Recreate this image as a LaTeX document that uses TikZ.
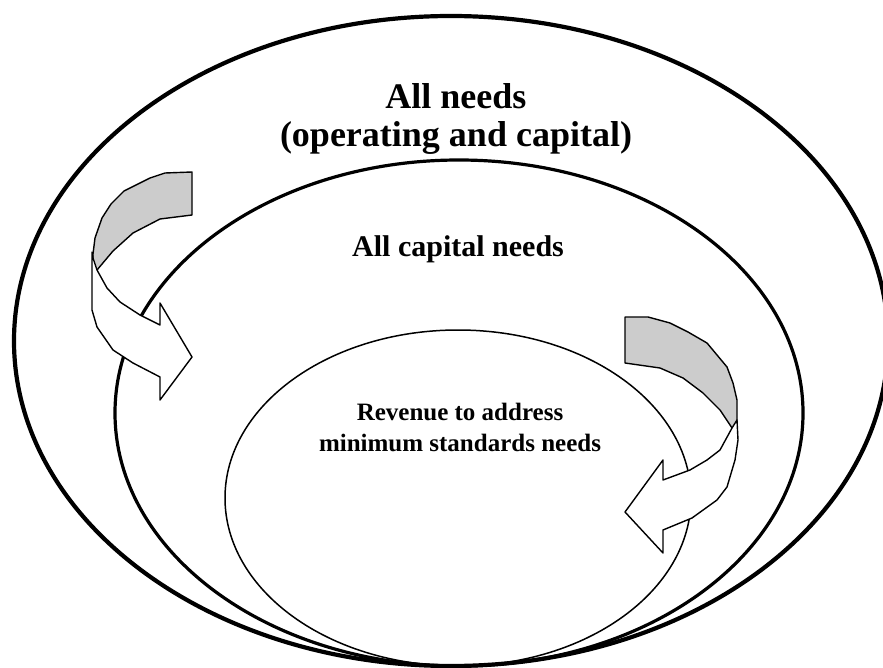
\documentclass[tikz,border=0pt]{standalone}
\usepackage{fontspec}
\setmainfont{Liberation Serif}
\begin{document}
\begin{tikzpicture}[x=1pt,y=-1pt,
  ring/.style={draw=black},
  bandfill/.style={draw=black,line width=1.4pt,line join=round,fill=white},
  backfill/.style={draw=black,line width=1.4pt,line join=round,fill=black!20},
  caption/.style={align=center,font=\bfseries,inner sep=0pt}]
\useasboundingbox (0,0) rectangle (883,668);

% nested ellipses, all touching near the bottom
\draw[ring,line width=4.2pt] (451,341) ellipse [x radius=437,y radius=325];
\draw[ring,line width=3.2pt] (459,413) ellipse [x radius=344,y radius=253];
\draw[ring,line width=1.5pt] (458,498) ellipse [x radius=233,y radius=168];

% labels
\node[caption,font=\bfseries\fontsize{36}{38}\selectfont] (allneeds) at (456,119)
  {All needs\\(operating and capital)};
\node[caption,font=\bfseries\fontsize{30}{33}\selectfont] (capital) at (458,249)
  {All capital needs};
\node[caption,font=\bfseries\fontsize{25}{31}\selectfont] (revenue) at (460,427)
  {Revenue to address\\minimum standards needs};

% left curved arrow: shaded back face, then the white band with its head
\draw[backfill] (192,172) -- (165,173) -- (150,178) -- (124,191) -- (111,204)
  -- (102,218) -- (95,238) -- (93,254) -- (93,268) -- (97,270) -- (113,251)
  -- (133,233) -- (160,219) -- (192,215) -- cycle;
\draw[bandfill] (92,252) -- (92,310) -- (97,327) -- (113,350) -- (133,363)
  -- (160,377) -- (160,400) -- (192,357) -- (160,303) -- (160,325)
  -- (140,315) -- (120,302) -- (107,288) -- (97,270) -- (93,258) -- cycle;

% right curved arrow
\draw[backfill] (625,317) -- (648,317) -- (670,323) -- (688,332) -- (707,343)
  -- (727,367) -- (733,383) -- (737,400) -- (737,430) -- (732,428)
  -- (720,410) -- (703,393) -- (683,378) -- (660,368) -- (625,363) -- cycle;
\draw[bandfill] (737,420) -- (738,440) -- (735,460) -- (727,487) -- (717,500)
  -- (692,518) -- (663,530) -- (663,553) -- (625,512) -- (663,460)
  -- (663,480) -- (690,470) -- (707,460) -- (720,450) -- (732,428) -- cycle;
\end{tikzpicture}
\end{document}
